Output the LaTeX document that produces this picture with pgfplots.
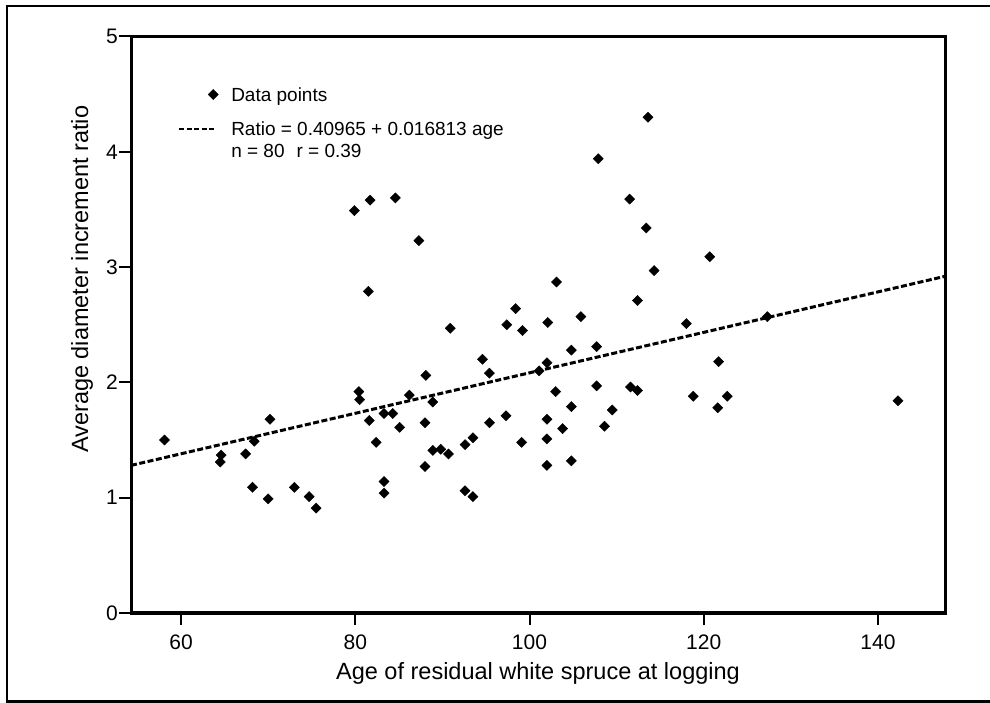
\documentclass[border=0pt]{standalone}
\usepackage{fontspec}
\setmainfont{Liberation Sans}
\usepackage{pgfplots}
\pgfplotsset{compat=1.18}
\begin{document}
\begin{tikzpicture}
\useasboundingbox (0bp,0bp) rectangle (990bp,703bp);
\draw[line width=2bp] (990bp,696.5bp) -- (6.5bp,696.5bp) -- (6.5bp,1.5bp) -- (990bp,1.5bp);
\begin{axis}[
  at={(131bp,90bp)}, anchor=south west,
  scale only axis, width=814bp, height=576.5bp,
  xmin=54.25, xmax=147.7, ymin=0, ymax=5,
  xtick={60,80,100,120,140}, ytick={0,1,2,3,4,5},
  xtick pos=bottom, ytick pos=left,
  tick align=outside, major tick length=12bp,
  axis line style={line width=3bp},
  every tick/.style={black, line width=2bp},
  /pgf/number format/assume math mode=true,
  tick label style={font=\fontsize{21bp}{25bp}\selectfont},
  xticklabel style={inner sep=1bp, yshift=-9bp},
  yticklabel style={inner sep=1bp},
  xlabel={Age of residual white spruce at logging},
  ylabel={Average diameter increment ratio},
  label style={font=\fontsize{23.5bp}{28bp}\selectfont},
  xlabel style={at={(axis description cs:0.5,-0.1162)}, anchor=base},
  ylabel style={at={(axis description cs:-0.0528,0.579)}, anchor=base},
  legend style={at={(axis description cs:0.0577,0.9127)}, anchor=north west,
    draw=none, fill=none, inner sep=0bp, row sep=7.7bp,
    font=\fontsize{19bp}{23bp}\selectfont,
    cells={anchor=base west},
    nodes={inner sep=0bp, text height=14bp, text depth=0bp},
    /tikz/every odd column/.append style={column sep=13bp}},
]
\addplot[only marks, mark=square*, mark size=3.6bp,
  mark options={rotate=45, fill=black, draw=black},
  legend image code/.code={\draw[black, fill=black] plot[only marks, mark=square*, mark size=3.6bp, mark options={rotate=45}] coordinates {(34bp,6.5bp)};}]
coordinates {
(58.1,1.50) (64.6,1.37) (64.5,1.31) (67.4,1.38) (68.4,1.49) (68.2,1.09)
(70.2,1.68) (70.0,0.99) (73.0,1.09) (74.7,1.01) (75.5,0.91)
(79.9,3.49) (81.7,3.58) (84.6,3.60) (87.3,3.23) (81.5,2.79)
(80.4,1.92) (80.5,1.85) (81.6,1.67) (82.4,1.48) (83.3,1.73) (83.3,1.14)
(83.3,1.04) (84.3,1.73) (85.1,1.61) (86.2,1.89) (88.1,2.06) (88.0,1.65)
(88.9,1.83) (88.0,1.27) (88.9,1.41) (89.8,1.42) (90.7,1.38) (90.9,2.47)
(92.6,1.46) (93.5,1.52) (92.6,1.06) (93.5,1.01) (94.6,2.20) (95.4,2.08)
(95.4,1.65) (97.4,2.50) (98.4,2.64) (99.2,2.45) (97.3,1.71) (99.1,1.48)
(101.1,2.10) (102.1,2.52) (102.0,2.17) (102.0,1.68) (102.0,1.51) (102.0,1.28)
(103.1,2.87) (103.0,1.92) (103.8,1.60) (104.8,2.28) (104.8,1.79) (104.8,1.32)
(105.9,2.57) (107.9,3.94) (107.7,2.31) (107.7,1.97) (108.6,1.62) (109.5,1.76)
(111.5,3.59) (111.6,1.96) (112.4,2.71) (112.4,1.93) (113.6,4.30) (113.4,3.34)
(114.3,2.97) (118.0,2.51) (118.8,1.88) (120.7,3.09) (121.7,2.18) (121.6,1.78)
(122.7,1.88) (127.3,2.57) (142.3,1.84)
};
\addlegendentry[text depth=12.6bp]{Data points}
\addplot[black, line width=3bp, dash pattern=on 6bp off 2.5bp,
  legend image code/.code={\draw[black, line width=2bp, dash pattern=on 5bp off 2.5bp] (0bp,6.5bp) -- (37bp,6.5bp);}]
coordinates {(54.25,1.28) (147.7,2.92)};
\addlegendentry{Ratio = 0.40965 + 0.016813 age}
\addlegendimage{empty legend}
\addlegendentry{n = 80\hspace{12bp}r = 0.39}
\end{axis}
\end{tikzpicture}
\end{document}
